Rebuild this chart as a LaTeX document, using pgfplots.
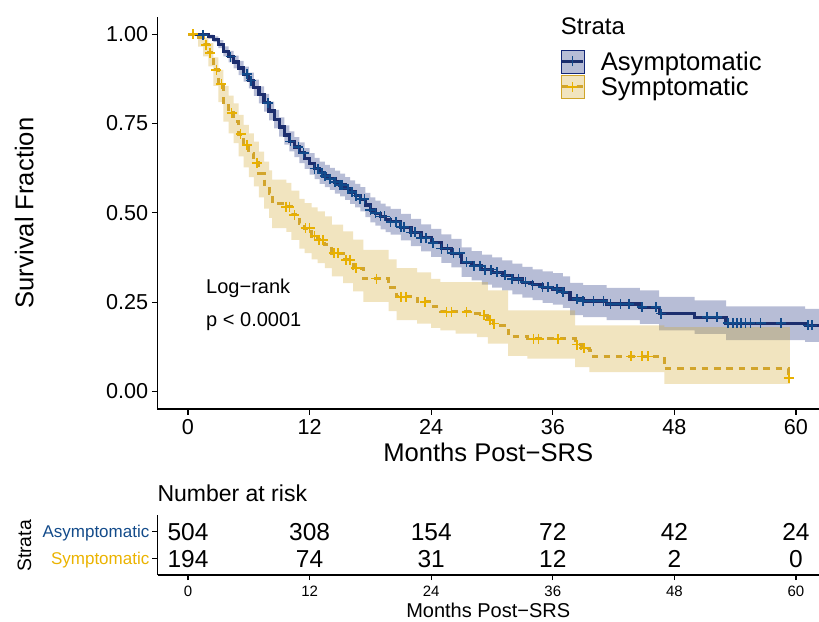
\documentclass[border=0pt]{standalone}
\usepackage{fontspec}
\setmainfont{Liberation Sans}
\usepackage{pgfplots}
\pgfplotsset{compat=1.18}
\usepackage{pgfplotstable}

\definecolor{bline}{RGB}{28,46,110}
\definecolor{bmark}{RGB}{17,74,139}
\definecolor{bband}{RGB}{18,38,118}
\definecolor{yline}{RGB}{210,165,44}
\definecolor{ymark}{RGB}{232,176,0}
\definecolor{yband}{RGB}{208,165,42}
\definecolor{blab}{RGB}{19,75,138}
\definecolor{ylab}{RGB}{235,179,0}
\newcommand{\fs}[1]{\fontsize{#1}{#1}\selectfont}

% Asymptomatic KM estimate
\pgfplotstableread{
t s
0 1.000
1.5 0.998
2 0.993
2.5 0.986
3 0.972
3.5 0.952
4 0.937
4.5 0.922
5 0.905
5.5 0.888
6 0.870
6.5 0.850
7 0.830
7.5 0.808
8 0.785
8.5 0.762
9 0.740
9.5 0.718
10 0.700
10.5 0.684
11 0.668
11.5 0.652
12 0.637
12.5 0.624
13 0.612
13.5 0.603
14 0.595
14.5 0.586
15 0.578
15.5 0.568
16 0.558
16.5 0.548
17 0.538
17.5 0.522
18 0.508
18.5 0.499
19 0.490
19.5 0.482
20 0.475
21 0.460
22 0.445
23 0.430
24 0.416
25 0.400
26 0.387
27 0.362
28 0.352
29 0.341
30 0.333
31 0.325
32 0.315
33 0.306
34 0.299
35 0.292
36 0.287
37 0.278
37.7 0.259
39 0.253
41.3 0.245
44.6 0.236
46.5 0.218
50 0.208
53.1 0.191
60.9 0.185
62.5 0.185
}\asym

% Asymptomatic 95% CI band (upper edge forward, lower edge backward)
\pgfplotstableread{
t v
0 1.000
1.5 1.000
2 1.000
2 0.999
2.5 0.999
2.5 0.994
3 0.994
3 0.983
3.5 0.983
3.5 0.966
4 0.966
4 0.953
4.5 0.953
4.5 0.940
5 0.940
5 0.925
5.5 0.925
5.5 0.909
6 0.909
6 0.892
6.5 0.892
6.5 0.873
7 0.873
7 0.854
7.5 0.854
7.5 0.833
8 0.833
8 0.811
8.5 0.811
8.5 0.788
9 0.788
9 0.767
9.5 0.767
9.5 0.745
10 0.745
10 0.728
10.5 0.728
10.5 0.712
11 0.712
11 0.697
11.5 0.697
11.5 0.681
12 0.681
12 0.667
12.5 0.667
12.5 0.654
13 0.654
13 0.643
13.5 0.643
13.5 0.634
14 0.634
14 0.626
14.5 0.626
14.5 0.618
15 0.618
15 0.610
15.5 0.610
15.5 0.600
16 0.600
16 0.591
16.5 0.591
16.5 0.581
17 0.581
17 0.572
17.5 0.572
17.5 0.556
18 0.556
18 0.543
18.5 0.543
18.5 0.534
19 0.534
19 0.526
19.5 0.526
19.5 0.518
20 0.518
20 0.511
21 0.511
21 0.497
22 0.497
22 0.483
23 0.483
23 0.468
24 0.468
24 0.455
25 0.455
25 0.440
26 0.440
26 0.427
27 0.427
27 0.403
28 0.403
28 0.393
29 0.393
29 0.383
30 0.383
30 0.375
31 0.375
31 0.367
32 0.367
32 0.358
33 0.358
33 0.349
34 0.349
34 0.342
35 0.342
35 0.336
36 0.336
36 0.331
37 0.331
37 0.322
37.7 0.322
37.7 0.304
39 0.304
39 0.298
41.3 0.298
41.3 0.290
44.6 0.290
44.6 0.283
46.5 0.283
46.5 0.265
50 0.265
50 0.255
53.1 0.255
53.1 0.238
60.9 0.238
60.9 0.231
62.5 0.231
62.5 0.139
60.9 0.139
60.9 0.144
53.1 0.144
53.1 0.161
50 0.161
50 0.171
46.5 0.171
46.5 0.189
44.6 0.189
44.6 0.200
41.3 0.200
41.3 0.208
39 0.208
39 0.214
37.7 0.214
37.7 0.234
37 0.234
37 0.243
36 0.243
36 0.248
35 0.248
35 0.256
34 0.256
34 0.263
33 0.263
33 0.272
32 0.272
32 0.283
31 0.283
31 0.291
30 0.291
30 0.299
29 0.299
29 0.311
28 0.311
28 0.321
27 0.321
27 0.347
26 0.347
26 0.360
25 0.360
25 0.377
24 0.377
24 0.392
23 0.392
23 0.407
22 0.407
22 0.423
21 0.423
21 0.439
20 0.439
20 0.446
19.5 0.446
19.5 0.454
19 0.454
19 0.464
18.5 0.464
18.5 0.473
18 0.473
18 0.488
17.5 0.488
17.5 0.504
17 0.504
17 0.515
16.5 0.515
16.5 0.525
16 0.525
16 0.536
15.5 0.536
15.5 0.546
15 0.546
15 0.554
14.5 0.554
14.5 0.564
14 0.564
14 0.572
13.5 0.572
13.5 0.581
13 0.581
13 0.594
12.5 0.594
12.5 0.607
12 0.607
12 0.623
11.5 0.623
11.5 0.639
11 0.639
11 0.656
10.5 0.656
10.5 0.672
10 0.672
10 0.691
9.5 0.691
9.5 0.713
9 0.713
9 0.736
8.5 0.736
8.5 0.759
8 0.759
8 0.783
7.5 0.783
7.5 0.806
7 0.806
7 0.827
6.5 0.827
6.5 0.848
6 0.848
6 0.867
5.5 0.867
5.5 0.885
5 0.885
5 0.904
4.5 0.904
4.5 0.921
4 0.921
4 0.938
3.5 0.938
3.5 0.961
3 0.961
3 0.978
2.5 0.978
2.5 0.987
2 0.987
2 0.995
1.5 0.995
1.5 1.000
0 1.000
}\asymband

% Symptomatic KM estimate
\pgfplotstableread{
t s
0 1.000
1 0.990
1.5 0.970
2 0.948
2.5 0.900
3 0.860
3.5 0.810
4 0.780
4.5 0.755
5 0.720
5.5 0.690
6 0.665
6.5 0.640
7 0.610
7.5 0.580
8 0.555
8.3 0.527
9.7 0.517
10.2 0.494
11 0.470
11.5 0.457
12.2 0.435
12.8 0.424
13.5 0.410
14.2 0.387
15.3 0.368
16.3 0.345
17.3 0.316
19.8 0.290
20.6 0.265
22.6 0.251
24 0.237
24.9 0.223
27.8 0.218
29.0 0.213
29.6 0.200
30.1 0.190
30.6 0.185
31.6 0.154
33.5 0.147
38.2 0.131
38.8 0.121
39.6 0.116
40.0 0.098
47.0 0.063
59.3 0.037
59.4 0.037
}\sym

% Symptomatic 95% CI band
\pgfplotstableread{
t v
0 1.000
1 1.000
1 0.998
1.5 0.998
1.5 0.990
2 0.990
2 0.975
2.5 0.975
2.5 0.935
3 0.935
3 0.900
3.5 0.900
3.5 0.855
4 0.855
4 0.828
4.5 0.828
4.5 0.806
5 0.806
5 0.774
5.5 0.774
5.5 0.746
6 0.746
6 0.722
6.5 0.722
6.5 0.699
7 0.699
7 0.671
7.5 0.671
7.5 0.643
8 0.643
8 0.619
8.3 0.619
8.3 0.593
9.7 0.593
9.7 0.584
10.2 0.584
10.2 0.562
11 0.562
11 0.539
11.5 0.539
11.5 0.527
12.2 0.527
12.2 0.515
12.8 0.515
12.8 0.504
13.5 0.504
13.5 0.490
14.2 0.490
14.2 0.467
15.3 0.467
15.3 0.448
16.3 0.448
16.3 0.425
17.3 0.425
17.3 0.396
19.8 0.396
19.8 0.370
20.6 0.370
20.6 0.345
22.6 0.345
22.6 0.333
24 0.333
24 0.315
24.9 0.315
24.9 0.306
29.6 0.306
29.6 0.283
31.6 0.283
31.6 0.227
38.2 0.227
38.2 0.185
47.0 0.185
47.0 0.180
59.4 0.180
59.4 0.021
47.0 0.021
47.0 0.054
39.6 0.054
39.6 0.068
38.2 0.068
38.2 0.092
33.5 0.092
33.5 0.100
31.6 0.100
31.6 0.134
29.6 0.134
29.6 0.152
28.5 0.152
28.5 0.162
26.4 0.162
26.4 0.171
24.9 0.171
24.9 0.178
24 0.178
24 0.190
22.6 0.190
22.6 0.200
20.6 0.200
20.6 0.225
19.8 0.225
19.8 0.251
17.3 0.251
17.3 0.280
16.3 0.280
16.3 0.303
15.3 0.303
15.3 0.322
14.2 0.322
14.2 0.345
13.5 0.345
13.5 0.359
12.8 0.359
12.8 0.370
12.2 0.370
12.2 0.387
11.5 0.387
11.5 0.400
11 0.400
11 0.424
10.2 0.424
10.2 0.447
9.7 0.447
9.7 0.457
8.3 0.457
8.3 0.486
8 0.486
8 0.512
7.5 0.512
7.5 0.543
7 0.543
7 0.574
6.5 0.574
6.5 0.600
6 0.600
6 0.627
5.5 0.627
5.5 0.658
5 0.658
5 0.695
4.5 0.695
4.5 0.722
4 0.722
4 0.755
3.5 0.755
3.5 0.810
3 0.810
3 0.855
2.5 0.855
2.5 0.910
2 0.910
2 0.938
1.5 0.938
1.5 0.965
1 0.965
1 1.000
0 1.000
}\symband

% censoring marks
\pgfplotstableread{
t s
1.5 0.998
4.2 0.937
5.8 0.888
6.2 0.870
7.9 0.808
10.1 0.700
10.9 0.684
11.4 0.668
12.5 0.624
12.8 0.624
13.2 0.612
13.5 0.603
14.0 0.595
14.5 0.586
15.0 0.578
15.2 0.578
15.8 0.568
16.2 0.558
16.6 0.548
17.0 0.538
17.4 0.538
18.0 0.508
18.5 0.499
19.0 0.490
19.4 0.490
20.0 0.475
20.5 0.475
21.0 0.460
21.3 0.460
22.0 0.445
22.4 0.445
23.0 0.430
23.5 0.430
24.2 0.416
25.0 0.400
25.6 0.400
26.2 0.387
26.8 0.387
27.5 0.362
28.2 0.352
28.8 0.352
29.3 0.341
29.9 0.341
30.5 0.333
31.3 0.325
32.0 0.315
32.6 0.315
33.3 0.306
34.0 0.299
35.0 0.292
35.5 0.292
36.4 0.287
37.0 0.278
38.4 0.259
39.0 0.253
40.0 0.253
41.0 0.253
41.7 0.245
42.7 0.245
43.5 0.245
44.8 0.236
46.2 0.236
46.7 0.218
51.2 0.208
52.2 0.208
53.3 0.191
53.8 0.191
54.2 0.191
54.6 0.191
55.0 0.191
55.5 0.191
56.5 0.191
58.5 0.191
61.2 0.185
61.6 0.185
}\asymc

\pgfplotstableread{
t s
0.5 1.000
1.8 0.970
2.2 0.948
2.8 0.900
3.3 0.860
4.3 0.780
5.2 0.720
5.8 0.690
6.8 0.640
9.7 0.517
10.0 0.517
10.5 0.494
11.6 0.457
12.0 0.457
12.5 0.435
12.9 0.424
13.3 0.424
14.4 0.387
14.8 0.387
15.6 0.368
16.0 0.368
16.6 0.345
18.6 0.316
21.0 0.265
21.5 0.265
23.4 0.251
25.5 0.223
26.0 0.223
27.5 0.223
29.2 0.213
29.8 0.200
30.2 0.190
34.1 0.147
34.6 0.147
36.5 0.147
38.4 0.131
39.1 0.121
43.7 0.098
44.8 0.098
45.4 0.098
59.3 0.037
}\symc

\begin{document}
\begin{tikzpicture}
\path[use as bounding box] (0pt,0pt) rectangle (819pt,621pt);
\begin{axis}[
 at={(157.5pt,212pt)}, anchor=south west,
 scale only axis, width=661.5pt, height=392pt,
 xmin=-3.01, xmax=62.27, ymin=-0.049, ymax=1.048,
 axis x line*=bottom, axis y line*=left,
 axis line style={line width=1.6pt, black},
 tick align=outside, major tick length=5.7pt,
 every tick/.style={black, line width=1.1pt},
 xtick={0,12,24,36,48,60}, xticklabels={0,12,24,36,48,60},
 ytick={0,0.25,0.5,0.75,1}, yticklabels={0.00,0.25,0.50,0.75,1.00},
 /pgf/number format/assume math mode=true,
 tick label style={font=\fs{21.6}, inner sep=0pt},
 xticklabel style={yshift=-4.3pt},
 yticklabel style={xshift=-3.5pt},
 xlabel={Months Post−SRS}, ylabel={Survival Fraction},
 every axis x label/.style={at={(axis description cs:0.5,-0.1344)}, anchor=base, font=\fs{25.6}},
 every axis y label/.style={at={(axis description cs:-0.1878,0.5)}, anchor=base, rotate=90, font=\fs{25.6}},
 legend style={at={(0.6085,0.9158)}, anchor=north west, draw=none, fill=none,
   inner sep=0pt, outer sep=0pt, font=\fs{25.6}, row sep=2.4pt,
   nodes={inner sep=0pt, outer sep=0pt},
   /tikz/every odd column/.append style={column sep=16pt}},
 legend cell align=left,
]
\addplot[fill=bband, fill opacity=0.3, draw=none, forget plot] table[x=t,y=v]{\asymband} -- cycle;
\addplot[fill=yband, fill opacity=0.3, draw=none, forget plot] table[x=t,y=v]{\symband} -- cycle;

\addplot[bline, line width=3.2pt, const plot, mark=none, forget plot] table[x=t,y=s]{\asym};
\addplot[yline, line width=3pt, const plot, mark=none, dash pattern=on 6.5pt off 5.8pt, forget plot] table[x=t,y=s]{\sym};
\addplot[only marks, mark=+, mark size=5pt, bmark, line width=1.6pt, forget plot] table[x=t,y=s]{\asymc};
\addplot[only marks, mark=+, mark size=5pt, ymark, line width=1.6pt, forget plot] table[x=t,y=s]{\symc};

\addlegendimage{legend image code/.code={
  \fill[bband, fill opacity=0.3] (0pt,-11.3pt) rectangle (22.6pt,11.3pt);
  \draw[bline, line width=3.2pt] (0.5pt,0pt) -- (22.1pt,0pt);
  \draw[bmark, line width=1.6pt] (11.3pt,-5pt) -- (11.3pt,5pt);
}}
\addlegendentry{Asymptomatic}
\addlegendimage{legend image code/.code={
  \fill[yband, fill opacity=0.3] (0pt,-11.3pt) rectangle (22.6pt,11.3pt);
  \draw[yline, line width=3pt] (1pt,0pt) -- (7pt,0pt) (15.6pt,0pt) -- (21.6pt,0pt);
  \draw[ymark, line width=1.6pt] (11.3pt,-5pt) -- (11.3pt,5pt) (6.3pt,0pt) -- (16.3pt,0pt);
}}
\addlegendentry{Symptomatic}

\node[anchor=base west, font=\fs{20}, inner sep=0pt] at (axis cs:1.78,0.275) {Log−rank};
\node[anchor=base west, font=\fs{20}, inner sep=0pt] at (axis cs:1.78,0.182) {p < 0.0001};
\end{axis}

\node[anchor=base west, font=\fs{24}, inner sep=0pt] at (560.7pt,586pt) {Strata};

\begin{axis}[
 at={(157.5pt,46pt)}, anchor=south west,
 scale only axis, width=661.5pt, height=60pt,
 xmin=-3.01, xmax=62.27, ymin=0.372, ymax=2.628,
 axis x line*=bottom, axis y line*=left,
 axis line style={line width=1.6pt, black},
 tick align=outside, major tick length=5pt,
 every tick/.style={black, line width=1.1pt},
 xtick={0,12,24,36,48,60}, xticklabels={0,12,24,36,48,60},
 ytick={1,2}, yticklabels={\textcolor{ylab}{Symptomatic},\textcolor{blab}{Asymptomatic}},
 tick label style={inner sep=0pt},
 xticklabel style={font=\fs{15}, yshift=-6pt},
 yticklabel style={font=\fs{17}, anchor=base east, yshift=-6.1pt, xshift=-3pt},
 xlabel={Months Post−SRS},
 every axis x label/.style={at={(axis description cs:0.5,-0.705)}, anchor=base, font=\fs{20}},
]
\addplot[draw=none, mark=none, forget plot] coordinates {(0,1) (60,2)};
\node[anchor=base, font=\fs{24.5}, inner sep=0pt, yshift=-8.8pt] at (axis cs:0,2) {504};
\node[anchor=base, font=\fs{24.5}, inner sep=0pt, yshift=-8.8pt] at (axis cs:12,2) {308};
\node[anchor=base, font=\fs{24.5}, inner sep=0pt, yshift=-8.8pt] at (axis cs:24,2) {154};
\node[anchor=base, font=\fs{24.5}, inner sep=0pt, yshift=-8.8pt] at (axis cs:36,2) {72};
\node[anchor=base, font=\fs{24.5}, inner sep=0pt, yshift=-8.8pt] at (axis cs:48,2) {42};
\node[anchor=base, font=\fs{24.5}, inner sep=0pt, yshift=-8.8pt] at (axis cs:60,2) {24};
\node[anchor=base, font=\fs{24.5}, inner sep=0pt, yshift=-8.8pt] at (axis cs:0,1) {194};
\node[anchor=base, font=\fs{24.5}, inner sep=0pt, yshift=-8.8pt] at (axis cs:12,1) {74};
\node[anchor=base, font=\fs{24.5}, inner sep=0pt, yshift=-8.8pt] at (axis cs:24,1) {31};
\node[anchor=base, font=\fs{24.5}, inner sep=0pt, yshift=-8.8pt] at (axis cs:36,1) {12};
\node[anchor=base, font=\fs{24.5}, inner sep=0pt, yshift=-8.8pt] at (axis cs:48,1) {2};
\node[anchor=base, font=\fs{24.5}, inner sep=0pt, yshift=-8.8pt] at (axis cs:60,1) {0};
\end{axis}

\node[anchor=base west, font=\fs{23}, inner sep=0pt] at (157.3pt,119.3pt) {Number at risk};
\node[anchor=base, font=\fs{19.4}, inner sep=0pt, rotate=90] at (31pt,75pt) {Strata};
\end{tikzpicture}
\end{document}
